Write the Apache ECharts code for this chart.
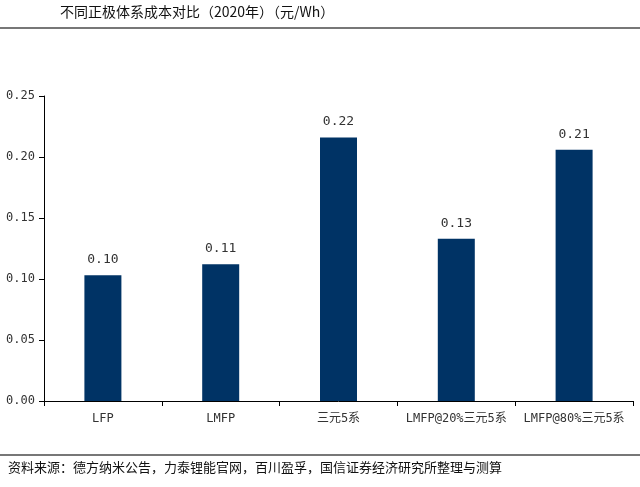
<!DOCTYPE html>
<html><head><meta charset="utf-8">
<script src="https://cdn.jsdelivr.net/npm/echarts@6/dist/echarts.min.js"></script>
<style>html,body{margin:0;padding:0;background:#fff}#c{width:640px;height:487px}</style>
</head><body><div id="c"></div>
<script>
const categories = ['LFP', 'LMFP', '三元5系', 'LMFP@20%三元5系', 'LMFP@80%三元5系'];
const costs = [0.103, 0.112, 0.216, 0.133, 0.206];
const labels = ['0.10', '0.11', '0.22', '0.13', '0.21'];
const titleText = '不同正极体系成本对比（2020年）（元/Wh）';
const sourceText = '资料来源：德方纳米公告，力泰锂能官网，百川盈孚，国信证券经济研究所整理与测算';

const chart = echarts.init(document.getElementById('c'));
const mono = '"DejaVu Sans Mono", "Noto Sans CJK SC", monospace';
chart.setOption({
  animation: false,
  grid: {left: 44, right: 7, top: 96, bottom: 86},
  xAxis: {
    type: 'category', data: categories,
    axisLine: {lineStyle: {color: '#000', width: 1}},
    axisTick: {show: true, length: 5, alignWithLabel: false, lineStyle: {color: '#000'}},
    axisLabel: {color: '#333', fontSize: 12, fontFamily: mono, margin: 12, interval: 0}
  },
  yAxis: {
    type: 'value', min: 0, max: 0.25, interval: 0.05,
    splitLine: {show: false},
    axisLine: {show: true, lineStyle: {color: '#000', width: 1}},
    axisTick: {show: true, length: 5, lineStyle: {color: '#000'}},
    axisLabel: {color: '#333', fontSize: 12, fontFamily: mono, margin: 9,
      formatter: v => v.toFixed(2)}
  },
  series: [{
    type: 'bar', data: costs, barWidth: 37,
    itemStyle: {color: '#003365'},
    label: {show: true, position: 'top', distance: 9, color: '#333', fontSize: 13, fontFamily: mono,
      formatter: p => labels[p.dataIndex]}
  }],
  graphic: [
    {type: 'text', left: 60, top: 5, style: {text: titleText, fontSize: 14, fill: '#111', fontFamily: '"Noto Sans CJK SC", sans-serif'}},
    {type: 'line', shape: {x1: 0, y1: 28, x2: 640, y2: 28}, style: {stroke: '#777', lineWidth: 2}},
    {type: 'line', shape: {x1: 0, y1: 455, x2: 640, y2: 455}, style: {stroke: '#777', lineWidth: 2}},
    {type: 'text', left: 8, top: 461, style: {text: sourceText, fontSize: 13, fill: '#111', fontFamily: '"Noto Sans CJK SC", sans-serif'}}
  ]
});
</script></body></html>
